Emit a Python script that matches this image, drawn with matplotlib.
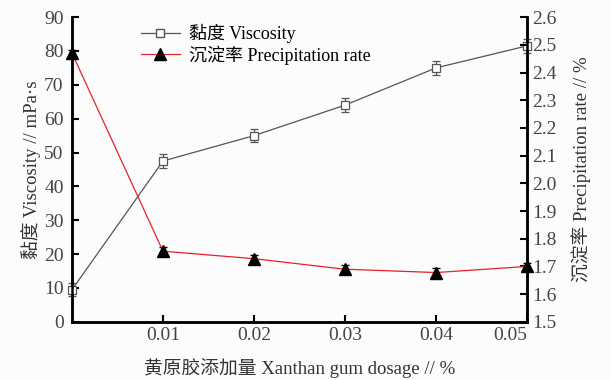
import matplotlib.pyplot as plt
from matplotlib.lines import Line2D
import numpy as np

plt.rcParams['font.family'] = ['Liberation Serif', 'Noto Sans CJK SC']

dosage = [0.0, 0.01, 0.02, 0.03, 0.04, 0.05]
viscosity = [9.5, 47.5, 55.0, 64.0, 75.0, 81.5]
viscosity_err = [2.0, 2.0, 2.0, 2.0, 2.0, 2.0]
precip = [2.47, 1.755, 1.728, 1.69, 1.678, 1.70]
precip_err = [0.012, 0.015, 0.015, 0.015, 0.015, 0.012]
xtick_vals = [0.01, 0.02, 0.03, 0.04, 0.05]
xtick_labels = ['0.01', '0.02', '0.03', '0.04', '0.05']

fig = plt.figure(figsize=(6.1, 3.8), dpi=100)
fig.patch.set_facecolor('#fcfcfc')
ax = fig.add_axes([0.118, 0.153, 0.746, 0.802])
ax.set_facecolor('#fcfcfc')
ax2 = ax.twinx()

ax.errorbar(dosage, viscosity, yerr=viscosity_err, color='#555555', lw=0.9,
            marker='s', ms=6, mfc='white', mec='#555555', mew=0.9,
            capsize=3, elinewidth=0.9, clip_on=False, zorder=3)
ax2.errorbar(dosage, precip, yerr=precip_err, color='#e8202a', lw=0.9,
             marker='^', ms=8, mfc='black', mec='black',
             ecolor='black', capsize=3, elinewidth=0.9, clip_on=False, zorder=3)

ax.set_xlim(0, 0.05)
ax.set_ylim(0, 90)
ax2.set_ylim(1.5, 2.6)
ax.set_xticks(xtick_vals)
ax.set_xticklabels(xtick_labels)
ax.set_yticks(np.arange(0, 91, 10))
ax2.set_yticks(np.arange(1.5, 2.61, 0.1))
ax2.set_yticklabels(['%.1f' % v for v in np.arange(1.5, 2.61, 0.1)])

for a in (ax, ax2):
    a.spines['top'].set_visible(False)
    for s in ('left', 'right', 'bottom'):
        a.spines[s].set_linewidth(1.8)
    a.tick_params(direction='in', width=1.5, length=5, labelsize=14,
                  labelcolor='#444444')
ax.tick_params(axis='y', pad=6)
ax2.tick_params(axis='y', pad=4)
ax.get_xticklabels()[-1].set_horizontalalignment('right')

ax.set_xlabel('黄原胶添加量 Xanthan gum dosage // %', fontsize=13.5, color='#333333', labelpad=10)
ax.set_ylabel('黏度 Viscosity // mPa·s', fontsize=13.5, color='#333333', labelpad=2)
ax2.set_ylabel('沉淀率 Precipitation rate // %', fontsize=13.5, color='#333333', labelpad=10)

h1 = Line2D([], [], color='#555555', lw=0.9, marker='s', ms=6, mfc='white', mec='#555555')
h2 = Line2D([], [], color='#e8202a', lw=0.9, marker='^', ms=9, mfc='black', mec='black')
ax.legend([h1, h2], ['黏度 Viscosity', '沉淀率 Precipitation rate'], loc='upper left',
          bbox_to_anchor=(0.115, 1.03), frameon=False, fontsize=13, handlelength=2.2,
          handletextpad=0.5, labelspacing=0.1)

fig.savefig('out.png', dpi=100, facecolor=fig.get_facecolor())
